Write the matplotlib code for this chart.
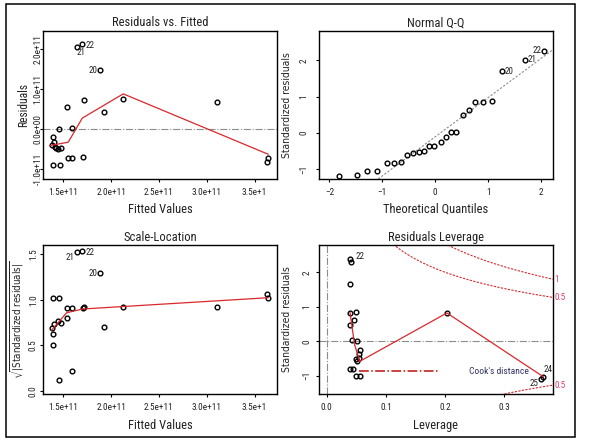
import numpy as np
import matplotlib
matplotlib.use('Agg')
import matplotlib.pyplot as plt
from matplotlib import font_manager
from matplotlib.lines import Line2D
from matplotlib.patches import Rectangle

# pick a narrow sans face if one is installed
prefs = ['Liberation Sans Narrow', 'Arial Narrow', 'Roboto Condensed', 'Open Sans Condensed',
         'Noto Sans Condensed', 'DejaVu Sans Condensed']
fonts = font_manager.fontManager.ttflist
chosen = None
for p in prefs:
    for f in fonts:
        if f.name == p and f.style == 'normal':
            chosen = (f.name, f.stretch)
            break
    if chosen:
        break
if chosen is None:
    for f in fonts:
        if f.stretch in ('condensed', 'semi-condensed') and f.style == 'normal' and f.weight in (400, 'normal', 'regular'):
            chosen = (f.name, f.stretch)
            break
if chosen is None:
    chosen = ('Liberation Sans', 'normal')
narrow = chosen[1] != 'normal' or 'Narrow' in chosen[0] or 'Condensed' in chosen[0]

plt.rcParams['font.family'] = [chosen[0], 'DejaVu Sans']
plt.rcParams['font.stretch'] = chosen[1]
plt.rcParams['mathtext.fontset'] = 'dejavusans'
k = 1.0 if narrow else 0.86  # shrink text when only a normal-width face exists

# residuals vs fitted (units of 1e11)
fitted = [1.643, 1.699, 1.887, 1.716, 1.534, 1.922, 2.124, 1.455, 1.594, 1.393,
          1.380, 1.400, 1.410, 1.427, 1.445, 1.476, 1.545, 1.594, 1.706, 1.393,
          1.462, 3.640, 3.630, 3.107]
resid = [2.04, 2.12, 1.47, 0.725, 0.55, 0.43, 0.74, 0.01, 0.04, -0.20,
         -0.40, -0.33, -0.44, -0.46, -0.49, -0.47, -0.71, -0.71, -0.69, -0.89,
         -0.89, -0.71, -0.81, 0.675]
smooth_fx = [1.361, 1.552, 1.699, 2.127, 3.642]
smooth_fy = [-0.41, -0.325, 0.275, 0.88, -0.625]

# normal Q-Q
theo_q = [-1.81, -1.47, -1.29, -1.10, -0.92, -0.78, -0.65, -0.53, -0.43, -0.31,
          -0.21, -0.11, -0.02, 0.11, 0.21, 0.30, 0.40, 0.52, 0.63, 0.75,
          0.91, 1.07, 1.26, 1.69, 2.06]
std_res = [-1.20, -1.15, -1.04, -1.04, -0.82, -0.82, -0.80, -0.60, -0.55, -0.53,
           -0.51, -0.35, -0.35, -0.24, -0.11, 0.02, 0.03, 0.48, 0.63, 0.85,
           0.85, 0.87, 1.70, 2.02, 2.27]
qq_intercept = -0.105
qq_slope = 1.08

# scale-location
sl_fit = [1.643, 1.699, 1.887, 1.392, 1.455, 1.539, 1.591, 1.703, 1.716, 2.124,
          1.922, 1.536, 1.379, 1.406, 1.441, 1.473, 1.396, 1.389, 1.591, 1.458,
          3.632, 3.646, 3.109]
sl_val = [1.527, 1.54, 1.29, 1.02, 1.02, 0.91, 0.91, 0.905, 0.92, 0.923,
          0.70, 0.795, 0.686, 0.733, 0.77, 0.747, 0.62, 0.50, 0.216, 0.12,
          1.06, 1.015, 0.917]
smooth_sx = [1.379, 1.536, 1.703, 3.640]
smooth_sy = [0.668, 0.858, 0.899, 1.023]

# residuals vs leverage
lev = [0.040, 0.0405, 0.039, 0.039, 0.0495, 0.039, 0.0466, 0.0427, 0.051, 0.056,
       0.055, 0.054, 0.049, 0.051, 0.0389, 0.044, 0.050, 0.0557, 0.203, 0.366,
       0.362]
lev_res = [2.37, 2.31, 1.65, 0.83, 0.84, 0.47, 0.62, 0.05, 0.01, -0.24,
           -0.36, -0.48, -0.51, -0.57, -0.79, -0.81, -1.01, -1.01, 0.82, -1.03,
           -1.10]
smooth_lx = [0.0394, 0.0439, 0.0473, 0.054, 0.055, 0.203, 0.366]
smooth_ly = [0.83, 0.28, -0.11, -0.49, -0.59, 0.82, -1.03]
n_params = 2
cook_levels = [0.5, 1]

red = '#d8282c'
pink = '#e03a6a'
grey = '#8c8c8c'
txt = '#222222'

fig = plt.figure(figsize=(5.92, 4.47), dpi=100)
fig.patches.append(Rectangle((0.0101, 0.0224), 0.9612, 0.9686, transform=fig.transFigure,
                             fill=False, edgecolor='black', linewidth=1.1))

w = 0.395
ax1 = fig.add_axes([0.0726, 0.5996, w, 0.332])
ax2 = fig.add_axes([0.5389, 0.5996, w, 0.332])
ax3 = fig.add_axes([0.0726, 0.1186, w, 0.3333])
ax4 = fig.add_axes([0.5389, 0.1186, w, 0.3333])

mk = dict(marker='o', ms=3.4, mfc='none', mec='black', mew=1.0, ls='none')
lab = dict(fontsize=6.5 * k, color=txt, textcoords='offset points')

def style(ax, title, xl, yl, ylx, ypad, xly=-0.165, ylfont=None):
    ax.set_title(title, fontsize=9 * k, color=txt, pad=3)
    ax.set_xlabel(xl, fontsize=9 * k, color=txt, va='top')
    if ylfont is None:
        ax.set_ylabel(yl, fontsize=8.3 * k, color=txt)
    else:
        ax.set_ylabel(yl, fontsize=ylfont, family='DejaVu Sans', color=txt)
    ax.xaxis.set_label_coords(0.5, xly)
    ax.yaxis.set_label_coords(ylx, 0.5)
    ax.tick_params(labelsize=6.7 * k, length=2.5, width=0.8, colors='black', labelcolor=txt)
    ax.tick_params(axis='x', pad=4)
    ax.tick_params(axis='y', pad=ypad)
    for lbl in ax.get_yticklabels():
        lbl.set_rotation(90)
        lbl.set_va('center')
    for s in ax.spines.values():
        s.set_linewidth(1.0)

# 1: residuals vs fitted
fx = np.array(fitted) * 1e11
ax1.axhline(0, color=grey, lw=0.8, ls='-.')
ax1.plot(fx, np.array(resid) * 1e11, **mk)
ax1.plot(np.array(smooth_fx) * 1e11, np.array(smooth_fy) * 1e11, color=red, lw=0.9)
ax1.annotate('22', (fx[1], resid[1] * 1e11), xytext=(2, -1), va='center', **lab)
ax1.annotate('21', (fx[0], resid[0] * 1e11), xytext=(0, -4), ha='left', va='center', **lab)
ax1.annotate('20', (fx[2], resid[2] * 1e11), xytext=(-2, 0), ha='right', va='center', **lab)
ax1.set_xlim(1.288e11, 3.733e11)
ax1.set_ylim(-1.242e11, 2.457e11)
ax1.set_xticks([1.5e11, 2.0e11, 2.5e11, 3.0e11, 3.5e11],
               ['1.5e+11', '2.0e+11', '2.5e+11', '3.0e+11', '3.5e+1'])
ax1.set_yticks([-1e11, 0, 1e11, 2e11], ['-1.0e+11', '0.0e+00', '1.0e+11', '2.0e+11'])
style(ax1, 'Residuals vs. Fitted', 'Fitted Values', 'Residuals', -0.055, -2.3, xly=-0.162)

# 2: normal Q-Q
ax2.axline((0, qq_intercept), slope=qq_slope, color=grey, lw=0.8, ls=(0, (2, 1.5)))
ax2.plot(theo_q, std_res, **mk)
ax2.annotate('20', (theo_q[22], std_res[22]), xytext=(2, 0), va='center', **lab)
ax2.annotate('21', (theo_q[23], std_res[23]), xytext=(2, 0), va='center', **lab)
ax2.annotate('22', (theo_q[24], std_res[24]), xytext=(-2, 0), ha='right', va='center', **lab)
ax2.set_xlim(-2.195, 2.22)
ax2.set_ylim(-1.27, 2.82)
ax2.set_xticks([-2, -1, 0, 1, 2])
ax2.set_yticks([-1, 0, 1, 2])
style(ax2, 'Normal Q-Q', 'Theoretical Quantiles', 'Standardized residuals', -0.114, 5.2,
      xly=-0.162, ylfont=7.4)

# 3: scale-location
sx = np.array(sl_fit) * 1e11
ax3.plot(sx, sl_val, **mk)
ax3.plot(np.array(smooth_sx) * 1e11, smooth_sy, color=red, lw=0.9)
ax3.annotate('22', (sx[1], sl_val[1]), xytext=(2, -1), va='center', **lab)
ax3.annotate('21', (sx[0], sl_val[0]), xytext=(-2, -4), ha='right', va='center', **lab)
ax3.annotate('20', (sx[2], sl_val[2]), xytext=(-2, 0), ha='right', va='center', **lab)
ax3.set_xlim(1.288e11, 3.733e11)
ax3.set_ylim(-0.036, 1.603)
ax3.set_xticks([1.5e11, 2.0e11, 2.5e11, 3.0e11, 3.5e11],
               ['1.5e+11', '2.0e+11', '2.5e+11', '3.0e+11', '3.5e+1'])
ax3.set_yticks([0, 0.5, 1.0, 1.5], ['0.0', '0.5', '1.0', '1.5'])
style(ax3, 'Scale-Location', 'Fitted Values', r'$\sqrt{|\mathrm{Standardized\ residuals}|}$',
      -0.072, 1.2, xly=-0.168, ylfont=7.0)

# 4: residuals vs leverage
ax4.axhline(0, color=grey, lw=0.8, ls='-.')
ax4.axvline(0, color=grey, lw=0.8, ls='-.')
xmax = 0.382
hh = np.linspace(0.002, xmax, 300)
for lv in cook_levels:
    cy = np.sqrt(lv * n_params * (1 - hh) / hh)
    ax4.plot(hh, cy, color=red, lw=0.8, ls=(0, (2, 1.2)))
    ax4.plot(hh, -cy, color=red, lw=0.8, ls=(0, (2, 1.2)))
    yend = np.sqrt(lv * n_params * (1 - xmax) / xmax)
    ax4.text(xmax + 0.003, yend, '{:g}'.format(lv), color=pink, fontsize=6.5 * k,
             ha='left', va='center', clip_on=False)
    if lv == 0.5:
        ax4.text(xmax + 0.003, -yend, '{:g}'.format(lv), color=pink, fontsize=6.5 * k,
                 ha='left', va='center', clip_on=False)
ax4.plot(lev, lev_res, **mk)
ax4.plot(smooth_lx, smooth_ly, color=red, lw=0.9)
ax4.annotate('22', (lev[0], lev_res[0]), xytext=(4, 2), va='center', **lab)
ax4.annotate('24', (lev[19], lev_res[19]), xytext=(0, 5), va='center', **lab)
ax4.annotate('25', (lev[20], lev_res[20]), xytext=(-2, -3), ha='right', va='center', **lab)
ax4.set_xlim(-0.013, xmax)
ax4.set_ylim(-1.528, 2.79)
ax4.set_xticks([0.0, 0.1, 0.2, 0.3])
ax4.set_yticks([-1, 0, 1, 2])
leg = ax4.legend(handles=[Line2D([], [], color='#c01010', lw=1.1, ls='-.')],
                 labels=["Cook's distance"], loc='center left', bbox_to_anchor=(0.172, 0.15),
                 frameon=False, fontsize=6.8 * k, handlelength=8.6 / k, handletextpad=3.0 / k,
                 borderpad=0, borderaxespad=0)
for t in leg.get_texts():
    t.set_color('#333366')
style(ax4, 'Residuals Leverage', 'Leverage', 'Standardized residuals', -0.114, 2.8,
      xly=-0.168, ylfont=7.4)

fig.savefig('out.png', dpi=100)
